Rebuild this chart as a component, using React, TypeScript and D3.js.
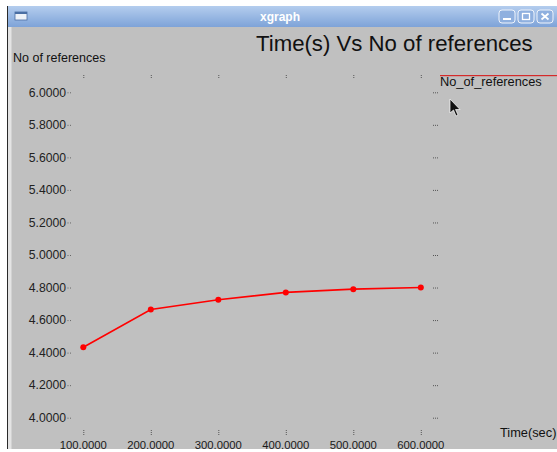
import React, { useEffect, useRef } from 'react'
import * as d3 from 'd3'

// data
const timeValues: number[] = [100, 200, 300, 400, 500, 600]
const referenceValues: number[] = [4.433, 4.665, 4.725, 4.77, 4.79, 4.8]
const yTickValues: number[] = [4.0, 4.2, 4.4, 4.6, 4.8, 5.0, 5.2, 5.4, 5.6, 5.8, 6.0]
const xTickValues: number[] = [100, 200, 300, 400, 500, 600]

const chartTitle = 'Time(s) Vs No of references'
const yAxisTitle = 'No of references'
const xAxisTitle = 'Time(sec)'
const seriesName = 'No_of_references'
const windowTitle = 'xgraph'

const width = 557
const height = 452
const font = '"Liberation Sans", Arial, Helvetica, sans-serif'

const App: React.FC = () => {
  const svgRef = useRef<SVGSVGElement>(null)

  useEffect(() => {
    if (!svgRef.current) return
    const svg = d3.select(svgRef.current)
    svg.selectAll('*').remove()

    // page background
    svg.append('rect').attr('width', width).attr('height', height).attr('fill', '#ffffff')

    // window frame
    svg.append('rect').attr('x', 7).attr('y', 27).attr('width', width - 7).attr('height', 422).attr('fill', '#c0c0c0')
    svg.append('rect').attr('x', 7).attr('y', 6).attr('width', 1.2).attr('height', 443).attr('fill', '#2a2a2a')
    svg.append('rect').attr('x', 8).attr('y', 27).attr('width', 3.5).attr('height', 422).attr('fill', '#e4e4e4')

    const defs = svg.append('defs')
    const grad = defs.append('linearGradient').attr('id', 'titlebar').attr('x1', 0).attr('x2', 0).attr('y1', 0).attr('y2', 1)
    grad.append('stop').attr('offset', '0%').attr('stop-color', '#b4cdee')
    grad.append('stop').attr('offset', '100%').attr('stop-color', '#7ea3d8')

    svg.append('rect').attr('x', 8).attr('y', 6).attr('width', width - 8).attr('height', 21).attr('fill', 'url(#titlebar)')
    svg.append('rect').attr('x', 15).attr('y', 12).attr('width', 12).attr('height', 8).attr('fill', '#eef2f8').attr('stroke', '#4b6fa3').attr('stroke-width', 0.8)
    svg.append('rect').attr('x', 15).attr('y', 12).attr('width', 12).attr('height', 2).attr('fill', '#4b6fa3')
    svg
      .append('text')
      .attr('x', 280)
      .attr('y', 21)
      .attr('text-anchor', 'middle')
      .style('font-family', font)
      .style('font-size', '12px')
      .style('font-weight', 'bold')
      .attr('fill', '#ffffff')
      .text(windowTitle)

    // window buttons
    const buttons = [499, 518, 537]
    buttons.forEach((bx, i) => {
      svg.append('rect').attr('x', bx).attr('y', 10).attr('width', 16).attr('height', 13).attr('rx', 3)
        .attr('fill', '#8fb0df').attr('stroke', '#eef3fb').attr('stroke-width', 1)
      if (i === 0) {
        svg.append('rect').attr('x', bx + 4).attr('y', 18).attr('width', 8).attr('height', 2).attr('fill', '#ffffff')
      } else if (i === 1) {
        svg.append('rect').attr('x', bx + 4.5).attr('y', 13.5).attr('width', 7).attr('height', 6).attr('fill', 'none').attr('stroke', '#ffffff').attr('stroke-width', 1.3)
      } else {
        svg.append('path').attr('d', `M${bx + 4.5},${13.5}L${bx + 11.5},${19.5}M${bx + 11.5},${13.5}L${bx + 4.5},${19.5}`)
          .attr('stroke', '#ffffff').attr('stroke-width', 1.8)
      }
    })

    // scales
    const xScale = d3.scaleLinear().domain([100, 600]).range([83.3, 420.8])
    const yScale = d3.scaleLinear().domain([4.0, 6.0]).range([417.7, 92.3])

    // titles
    svg.append('text').attr('x', 256).attr('y', 51)
      .style('font-family', font).style('font-size', '22.2px').attr('fill', '#111111').text(chartTitle)
    svg.append('text').attr('x', 13).attr('y', 62)
      .style('font-family', font).style('font-size', '12.5px').attr('fill', '#111111').text(yAxisTitle)
    svg.append('text').attr('x', 500).attr('y', 437)
      .style('font-family', font).style('font-size', '12.8px').attr('fill', '#111111').text(xAxisTitle)

    // y ticks: labels + dotted marks left and right
    const yTicks = svg.append('g')
    yTicks.selectAll('.ylab').data(yTickValues).enter().append('text')
      .attr('class', 'ylab')
      .attr('x', 66)
      .attr('y', (d) => yScale(d) + 4.3)
      .attr('text-anchor', 'end')
      .style('font-family', font).style('font-size', '12.2px').attr('fill', '#222222')
      .text((d) => d.toFixed(4))
    yTicks.selectAll('.yl').data(yTickValues).enter().append('line')
      .attr('x1', 67.5).attr('x2', 72).attr('y1', (d) => yScale(d) + 0.5).attr('y2', (d) => yScale(d) + 0.5)
      .attr('stroke', '#666666').attr('stroke-width', 1).attr('stroke-dasharray', '1,1.5')
    yTicks.selectAll('.yr').data(yTickValues).enter().append('line')
      .attr('x1', 433).attr('x2', 438).attr('y1', (d) => yScale(d) + 0.5).attr('y2', (d) => yScale(d) + 0.5)
      .attr('stroke', '#555555').attr('stroke-width', 1).attr('stroke-dasharray', '1,1')

    // x ticks: labels + dotted marks top and bottom
    const xTicks = svg.append('g')
    xTicks.selectAll('.xlab').data(xTickValues).enter().append('text')
      .attr('x', (d) => xScale(d))
      .attr('y', 449)
      .attr('text-anchor', 'middle')
      .style('font-family', font).style('font-size', '11.3px').attr('fill', '#1a1a1a')
      .text((d) => d.toFixed(4))
    xTicks.selectAll('.xt').data(xTickValues).enter().append('line')
      .attr('x1', (d) => xScale(d) + 0.5).attr('x2', (d) => xScale(d) + 0.5).attr('y1', 75).attr('y2', 79)
      .attr('stroke', '#555555').attr('stroke-width', 1).attr('stroke-dasharray', '1,1')
    xTicks.selectAll('.xb').data(xTickValues).enter().append('line')
      .attr('x1', (d) => xScale(d) + 0.5).attr('x2', (d) => xScale(d) + 0.5).attr('y1', 430).attr('y2', 435)
      .attr('stroke', '#555555').attr('stroke-width', 1).attr('stroke-dasharray', '1,1')

    // series
    const points = timeValues.map((t, i) => [t, referenceValues[i]] as [number, number])
    const line = d3.line<[number, number]>().x((d) => xScale(d[0])).y((d) => yScale(d[1]))
    svg.append('path').datum(points).attr('d', line).attr('fill', 'none').attr('stroke', '#ff0000').attr('stroke-width', 1.6)
    svg.selectAll('.pt').data(points).enter().append('circle')
      .attr('cx', (d) => xScale(d[0])).attr('cy', (d) => yScale(d[1])).attr('r', 3).attr('fill', '#ff0000')

    // legend
    svg.append('rect').attr('x', 440).attr('y', 75).attr('width', width - 440).attr('height', 1.2).attr('fill', '#d42a2a')
    svg.append('text').attr('x', 440).attr('y', 86)
      .style('font-family', font).style('font-size', '12.8px').attr('fill', '#111111').text(seriesName)

    // mouse pointer
    svg.append('path')
      .attr('d', 'M450,99L450,113L453.5,110L456,116L458,115L455.5,109.5L460,109.5Z')
      .attr('fill', '#111111').attr('stroke', '#ffffff').attr('stroke-width', 0.7)
  }, [])

  return (
    <svg
      ref={svgRef}
      width={width}
      height={height}
      style={{ position: 'absolute', left: 0, top: 0 }}
    ></svg>
  )
}

export default App
